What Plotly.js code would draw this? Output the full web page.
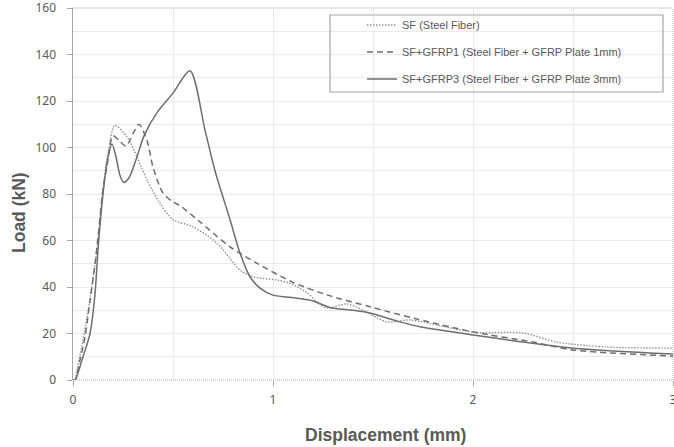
<!DOCTYPE html>
<html>
<head>
<meta charset="utf-8">
<script src="https://cdn.plot.ly/plotly-3.0.1.min.js"></script>
<style>html,body{margin:0;padding:0;background:#fff}#chart{width:674px;height:447px}</style>
</head>
<body>
<div id="chart"></div>
<script>
// Displacement (mm) / Load (kN)
const sfName = "SF (Steel Fiber)";
const sfX = [0, 0.01, 0.02, 0.07, 0.12, 0.15, 0.175, 0.21, 0.27, 0.32, 0.37, 0.435, 0.5, 0.6, 0.72, 0.835, 0.9, 1.02, 1.085, 1.17, 1.22, 1.27, 1.37, 1.45, 1.57, 1.685, 2.0, 2.25, 2.42, 2.67, 3.0];
const sfY = [0, 0, 4, 27, 56, 82, 97.6, 109.5, 104.6, 96, 86, 76, 69, 65.9, 58.9, 47.3, 44.4, 43, 41.6, 37.5, 33.6, 31, 32.7, 30, 25, 25.8, 20.6, 20.2, 16.3, 14.2, 13.7];

const g1Name = "SF+GFRP1 (Steel Fiber + GFRP Plate 1mm)";
const g1X = [0, 0.01, 0.035, 0.06, 0.085, 0.11, 0.125, 0.15, 0.17, 0.2, 0.23, 0.265, 0.3, 0.33, 0.37, 0.4, 0.45, 0.5, 0.535, 0.635, 0.785, 0.92, 1.1, 1.27, 1.485, 1.72, 2.0, 2.3, 2.5, 3.0];
const g1Y = [0, 0, 8.6, 18.5, 34, 50, 61.5, 82, 92, 105, 103, 100.6, 106, 110, 103, 91.6, 80.4, 76.6, 75, 68, 57.3, 50.2, 42, 36.6, 31.5, 26.2, 20.7, 16.3, 12.9, 10.3];

const g3Name = "SF+GFRP3 (Steel Fiber + GFRP Plate 3mm)";
const g3X = [0, 0.01, 0.05, 0.085, 0.11, 0.125, 0.15, 0.175, 0.195, 0.215, 0.235, 0.255, 0.28, 0.32, 0.355, 0.42, 0.5, 0.585, 0.66, 0.71, 0.785, 0.835, 0.885, 0.935, 1.0, 1.12, 1.2, 1.285, 1.4, 1.485, 1.635, 1.735, 2.0, 2.235, 2.5, 3.0];
const g3Y = [0, 0, 10, 20, 37, 56, 80, 96, 101.5, 96, 88, 85, 87, 96, 105, 115, 123.4, 133, 107.5, 90, 69, 54.6, 44.4, 39.5, 36.5, 35.2, 34, 31.2, 30, 28.8, 25, 22.9, 19.4, 16.5, 13.7, 11.2];

const xTickVals = [0, 1, 2, 3];
const yTickVals = [0, 20, 40, 60, 80, 100, 120, 140, 160];

const xTitle = "Displacement (mm)";
const yTitle = "Load (kN)";

const txt = '#595959';
const axisGray = '#a6a6a6';
const gridGray = '#ebebeb';

const traces = [
  {x: sfX, y: sfY, name: sfName, mode: 'lines', legend: 'legend',
   line: {color: '#8a8a8a', width: 1.4, dash: '1.4px,1.6px', shape: 'spline', smoothing: 0.8}},
  {x: g1X, y: g1Y, name: g1Name, mode: 'lines', legend: 'legend2',
   line: {color: '#6e6e6e', width: 1.5, dash: '6px,4px', shape: 'spline', smoothing: 0.8}},
  {x: g3X, y: g3Y, name: g3Name, mode: 'lines', legend: 'legend3',
   line: {color: '#6e6e6e', width: 1.5, shape: 'spline', smoothing: 0.8}}
];

const legFont = {family: 'Liberation Sans, Arial, sans-serif', size: 11, color: txt};
function leg(y) {
  return {x: 0.4817, xanchor: 'left', y: y, yanchor: 'middle', bgcolor: 'rgba(0,0,0,0)',
          borderwidth: 0, font: legFont, itemwidth: 30};
}

const layout = {
  width: 674, height: 447,
  margin: {l: 73, r: 1, t: 8, b: 67, pad: 0},
  paper_bgcolor: '#fff', plot_bgcolor: '#fff',
  showlegend: true,
  legend: leg(0.9543),
  legend2: leg(0.8817),
  legend3: leg(0.8091),
  xaxis: {
    range: [0, 3], tickmode: 'array', tickvals: xTickVals, fixedrange: true,
    showgrid: true, gridcolor: gridGray, gridwidth: 1,
    minor: {dtick: 0.5, tick0: 0, showgrid: true, gridcolor: gridGray, gridwidth: 1, ticks: ''},
    zeroline: false, showline: false,
    ticks: 'outside', ticklen: 5, tickcolor: axisGray, tickwidth: 1,
    ticklabelstandoff: 4, ticklabeloverflow: 'allow',
    tickfont: {family: 'Noto Sans, sans-serif', size: 12, color: txt}
  },
  yaxis: {
    range: [0, 160], tickmode: 'array', tickvals: yTickVals, fixedrange: true,
    showgrid: true, gridcolor: gridGray, gridwidth: 1,
    minor: {dtick: 10, tick0: 0, showgrid: true, gridcolor: gridGray, gridwidth: 1, ticks: ''},
    zeroline: false, showline: true, linecolor: axisGray, linewidth: 1.5,
    ticks: 'outside', ticklen: 5, tickcolor: axisGray, tickwidth: 1,
    ticklabelstandoff: 8, ticklabeloverflow: 'allow',
    tickfont: {family: 'Noto Sans, sans-serif', size: 12, color: txt}
  },
  shapes: [
    {type: 'line', xref: 'paper', yref: 'paper', x0: 0, x1: 1, y0: 1, y1: 1,
     line: {color: axisGray, width: 1, dash: '1px,1px'}},
    {type: 'line', xref: 'paper', yref: 'paper', x0: 1, x1: 1, y0: 0, y1: 1,
     line: {color: axisGray, width: 1, dash: '1px,1px'}},
    {type: 'line', xref: 'paper', yref: 'paper', x0: 0, x1: 1, y0: 0, y1: 0,
     line: {color: axisGray, width: 1.2, dash: '1px,1px'}},
    {type: 'rect', xref: 'paper', yref: 'paper', x0: 0.4283, x1: 0.9833, y0: 0.7742, y1: 0.9812,
     line: {color: '#a6a6a6', width: 1.2}, fillcolor: 'rgba(0,0,0,0)'}
  ],
  annotations: [
    {text: xTitle, xref: 'paper', yref: 'paper', x: (386 - 73) / 600, y: -(435 - 380) / 372,
     xanchor: 'center', yanchor: 'middle', showarrow: false,
     font: {family: 'Liberation Sans, Arial, sans-serif', size: 17.5, color: txt, weight: 'bold'}},
    {text: yTitle, xref: 'paper', yref: 'paper', x: -(73 - 19) / 600, y: (380 - 213) / 372,
     xanchor: 'center', yanchor: 'middle', showarrow: false, textangle: -90,
     font: {family: 'Liberation Sans, Arial, sans-serif', size: 17.5, color: txt, weight: 'bold'}}
  ]
};

Plotly.newPlot('chart', traces, layout, {displayModeBar: false, staticPlot: true});
</script>
</body>
</html>
